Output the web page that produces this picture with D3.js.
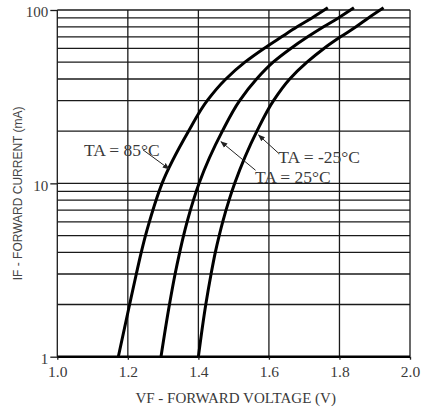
<!DOCTYPE html>
<html>
<head>
<meta charset="utf-8">
<script src="https://cdn.jsdelivr.net/npm/d3@7"></script>
<style>
  html, body { margin: 0; padding: 0; background: #fff; }
  svg { display: block; }
</style>
</head>
<body>
<svg id="chart" width="424" height="414"></svg>
<script>
// ---- data (forward current in mA, forward voltage in V) ----
const currents85  = [1, 2, 3, 4, 5, 6, 8, 10, 20, 30, 40, 50, 60, 70, 80, 90, 103];
const voltage85   = [1.173, 1.205, 1.224, 1.238, 1.250, 1.261, 1.280, 1.297, 1.372, 1.425, 1.478, 1.532, 1.586, 1.636, 1.680, 1.722, 1.767];
const currents25  = [1, 2, 3, 4, 5, 6, 8, 10, 20, 30, 40, 50, 60, 70, 80, 90, 103];
const voltage25   = [1.294, 1.318, 1.334, 1.347, 1.358, 1.368, 1.386, 1.402, 1.468, 1.517, 1.565, 1.612, 1.662, 1.710, 1.755, 1.797, 1.841];
const currentsM25 = [1, 2, 3, 4, 5, 6, 8, 10, 20, 30, 40, 50, 60, 70, 80, 90, 103];
const voltageM25  = [1.400, 1.421, 1.436, 1.448, 1.459, 1.469, 1.487, 1.503, 1.566, 1.613, 1.659, 1.708, 1.756, 1.803, 1.847, 1.882, 1.925];

const xTicks = [1.0, 1.2, 1.4, 1.6, 1.8, 2.0];
const yTickLabels = [1, 10, 100];
const yGrid = [1,2,3,4,5,6,7,8,9,10,20,30,40,50,60,70,80,90,100];

// annotation labels: text anchor and arrow (from -> tip) in data units
const labelTexts = ["TA = 85°C", "TA = -25°C", "TA = 25°C"];
const labelV     = [1.0757, 1.6266, 1.5605];
const labelI     = [14.4, 13.1, 10.05];
const arrowFromV = [1.243, 1.6277, 1.562];
const arrowFromI = [15.6, 14.9, 11.9];
const arrowTipV  = [1.317, 1.5705, 1.464];
const arrowTipI  = [12.1, 19.0, 17.4];

const xTitle = "VF - FORWARD VOLTAGE (V)";
const yTitle = "IF - FORWARD CURRENT (mA)";

// ---- layout ----
const mLeft = 57.3, mRight = 410, mTop = 10, mBottom = 356.7;
const svg = d3.select("#chart");

const x = d3.scaleLinear().domain([1.0, 2.0]).range([mLeft, mRight]);
const y = d3.scaleLog().domain([1, 100]).range([mBottom, mTop]);

const serif = "'Liberation Serif', 'Times New Roman', serif";
const sans = "'Liberation Sans', Arial, sans-serif";

// gridlines
const grid = svg.append("g");
grid.selectAll("line.h").data(yGrid).enter().append("line")
  .attr("x1", x(1.0)).attr("x2", x(2.0))
  .attr("y1", d => y(d)).attr("y2", d => y(d))
  .attr("stroke", "#1a1a1a").attr("stroke-width", 1.3);
grid.selectAll("line.v").data(xTicks).enter().append("line")
  .attr("x1", d => x(d)).attr("x2", d => x(d))
  .attr("y1", y(100)).attr("y2", y(1))
  .attr("stroke", "#1a1a1a").attr("stroke-width", 1.3);

// thicker bottom axis line
svg.append("line")
  .attr("x1", x(1.0)).attr("x2", x(2.0))
  .attr("y1", y(1)).attr("y2", y(1))
  .attr("stroke", "#000").attr("stroke-width", 2.6);

// axes
const xAxis = d3.axisBottom(x).tickValues(xTicks).tickFormat(d3.format(".1f")).tickSize(3).tickPadding(6);
const gx = svg.append("g").attr("transform", `translate(0,${mBottom})`).call(xAxis);
gx.select(".domain").remove();
gx.selectAll(".tick line").attr("stroke", "#1a1a1a").attr("stroke-width", 1.3);
gx.selectAll(".tick text").attr("font-family", serif).attr("font-size", 15.5).attr("fill", "#3a3a3a");

const yAxis = d3.axisLeft(y).tickValues(yTickLabels).tickFormat(d3.format("d")).tickSize(7).tickPadding(2);
const gy = svg.append("g").attr("transform", `translate(${mLeft},0)`).call(yAxis);
gy.select(".domain").remove();
gy.selectAll(".tick line").attr("stroke", "#1a1a1a").attr("stroke-width", 1.3);
gy.selectAll(".tick text").attr("font-family", serif).attr("font-size", 15).attr("fill", "#3a3a3a").attr("dy", "0.45em");

// axis titles
svg.append("text")
  .attr("x", (x(1.0) + x(2.0)) / 2 + 2).attr("y", 403)
  .attr("text-anchor", "middle")
  .attr("font-family", serif).attr("font-size", 15).attr("fill", "#3a3a3a")
  .text(xTitle);
svg.append("text")
  .attr("transform", `translate(22,${(mTop + mBottom) / 2 + 10}) rotate(-90)`)
  .attr("text-anchor", "middle")
  .attr("font-family", sans).attr("font-size", 12).attr("fill", "#444")
  .text(yTitle);

// curves
const series = [
  { I: currents85, V: voltage85 },
  { I: currents25, V: voltage25 },
  { I: currentsM25, V: voltageM25 }
];
const line = d3.line().x(d => x(d[0])).y(d => y(d[1])).curve(d3.curveMonotoneY);
svg.append("g").selectAll("path").data(series).enter().append("path")
  .attr("d", s => line(s.V.map((v, i) => [v, s.I[i]])))
  .attr("fill", "none").attr("stroke", "#000").attr("stroke-width", 3)
  .attr("stroke-linejoin", "round");

// arrow marker
svg.append("defs").append("marker")
  .attr("id", "arr").attr("viewBox", "0 0 10 10")
  .attr("refX", 9).attr("refY", 5)
  .attr("markerWidth", 7).attr("markerHeight", 7)
  .attr("markerUnits", "userSpaceOnUse")
  .attr("orient", "auto")
  .append("path").attr("d", "M0,1 L10,5 L0,9 z").attr("fill", "#222");

// annotations
const ann = svg.append("g");
labelTexts.forEach((t, i) => {
  ann.append("line")
    .attr("x1", x(arrowFromV[i])).attr("y1", y(arrowFromI[i]))
    .attr("x2", x(arrowTipV[i])).attr("y2", y(arrowTipI[i]))
    .attr("stroke", "#222").attr("stroke-width", 1)
    .attr("marker-end", "url(#arr)");
  ann.append("text")
    .attr("x", x(labelV[i])).attr("y", y(labelI[i]))
    .attr("font-family", serif).attr("font-size", 17.5).attr("fill", "#3a3a3a")
    .text(t);
});
</script>
</body>
</html>
